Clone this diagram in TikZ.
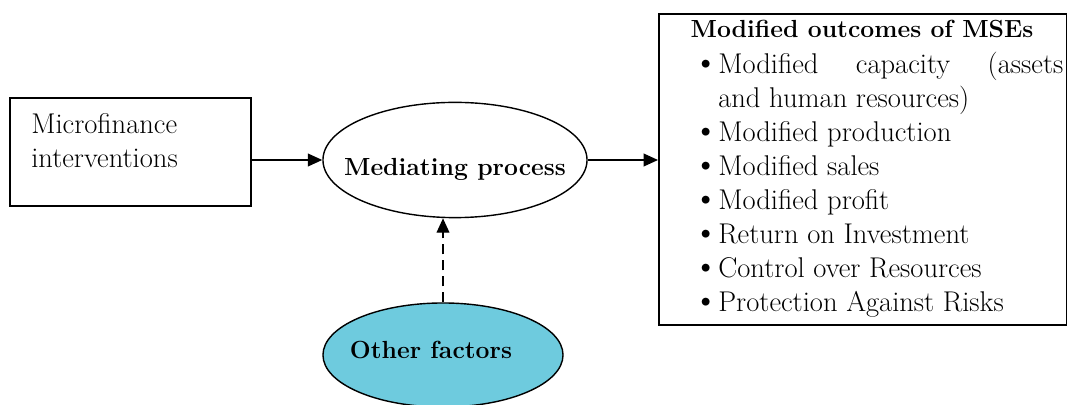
\documentclass[tikz,border=0pt]{standalone}
\usepackage{xcolor}
\definecolor{OtherFill}{RGB}{110,203,222}
\usetikzlibrary{shapes.geometric,arrows.meta}
\tikzstyle{block} = [rectangle, draw, line width=1.4pt, inner sep=0pt]
\tikzstyle{oval} = [ellipse, draw, line width=1pt, inner sep=0pt,
    font=\fontsize{17.6}{24.2}\selectfont\bfseries]
\tikzstyle{line} = [draw, line width=1pt, -{Triangle[length=0.36cm, width=0.32cm]}]
\newcommand{\outitem}[1]{\hangindent=0.5cm\hangafter=1\noindent
  \makebox[0.5cm][l]{\hspace{-0.12cm}\raisebox{0pt}[0pt][0pt]{\fontsize{25}{24.2}\selectfont\textbullet}}#1\par}

\begin{document}
\begin{tikzpicture}[x=0.025cm, y=-0.025cm, font=\fontsize{20.3}{24.2}\selectfont]
  \useasboundingbox (0,0) rectangle (1067,405);
  \clip (0,0) rectangle (1067,405);
  \node [block, minimum width=6.025cm, minimum height=2.7cm] (Micro) at (130.5,152) {};
  \node [anchor=base west, inner sep=0pt, align=left] (MicroText) at (31,168) {Microfinance\\interventions};
  \node [oval, minimum width=6.6cm, minimum height=2.88cm] (Mediate) at (455,160)
    {\raisebox{-0.4cm}[0pt][0pt]{\makebox[0pt]{Mediating process}}};
  \node [oval, fill=OtherFill, minimum width=6cm, minimum height=2.6cm] (Other) at (443,355)
    {\raisebox{-0.1cm}[0pt][0pt]{\makebox[0pt]{\hspace{-0.6cm}Other factors}}};
  \node [block, minimum width=10.2cm, minimum height=7.775cm, anchor=north west] (Outcomes) at (658,13) {};
  \node [anchor=base, inner sep=0pt, font=\fontsize{17.6}{24.2}\selectfont\bfseries] (Title) at (862,38) {Modified outcomes of MSEs};
  \node [anchor=north west, inner sep=0pt, text width=9.125cm, align=justify] (Items) at (698,52) {%
    \outitem{Modified capacity (assets\linebreak and human resources)}%
    \outitem{Modified production}%
    \outitem{Modified sales}%
    \outitem{Modified profit}%
    \outitem{Return on Investment}%
    \outitem{Control over Resources}%
    \outitem{Protection Against Risks}};
  %
  \path [line] (Micro.east |- Mediate.west) -- (Mediate.west);
  \path [line] (Mediate.east) -- (Mediate.east -| Outcomes.west);
  \path [line, dash pattern=on 0.25cm off 0.15cm] (Other.north) -- (Other.north |- Mediate.south);
\end{tikzpicture}
\end{document}
